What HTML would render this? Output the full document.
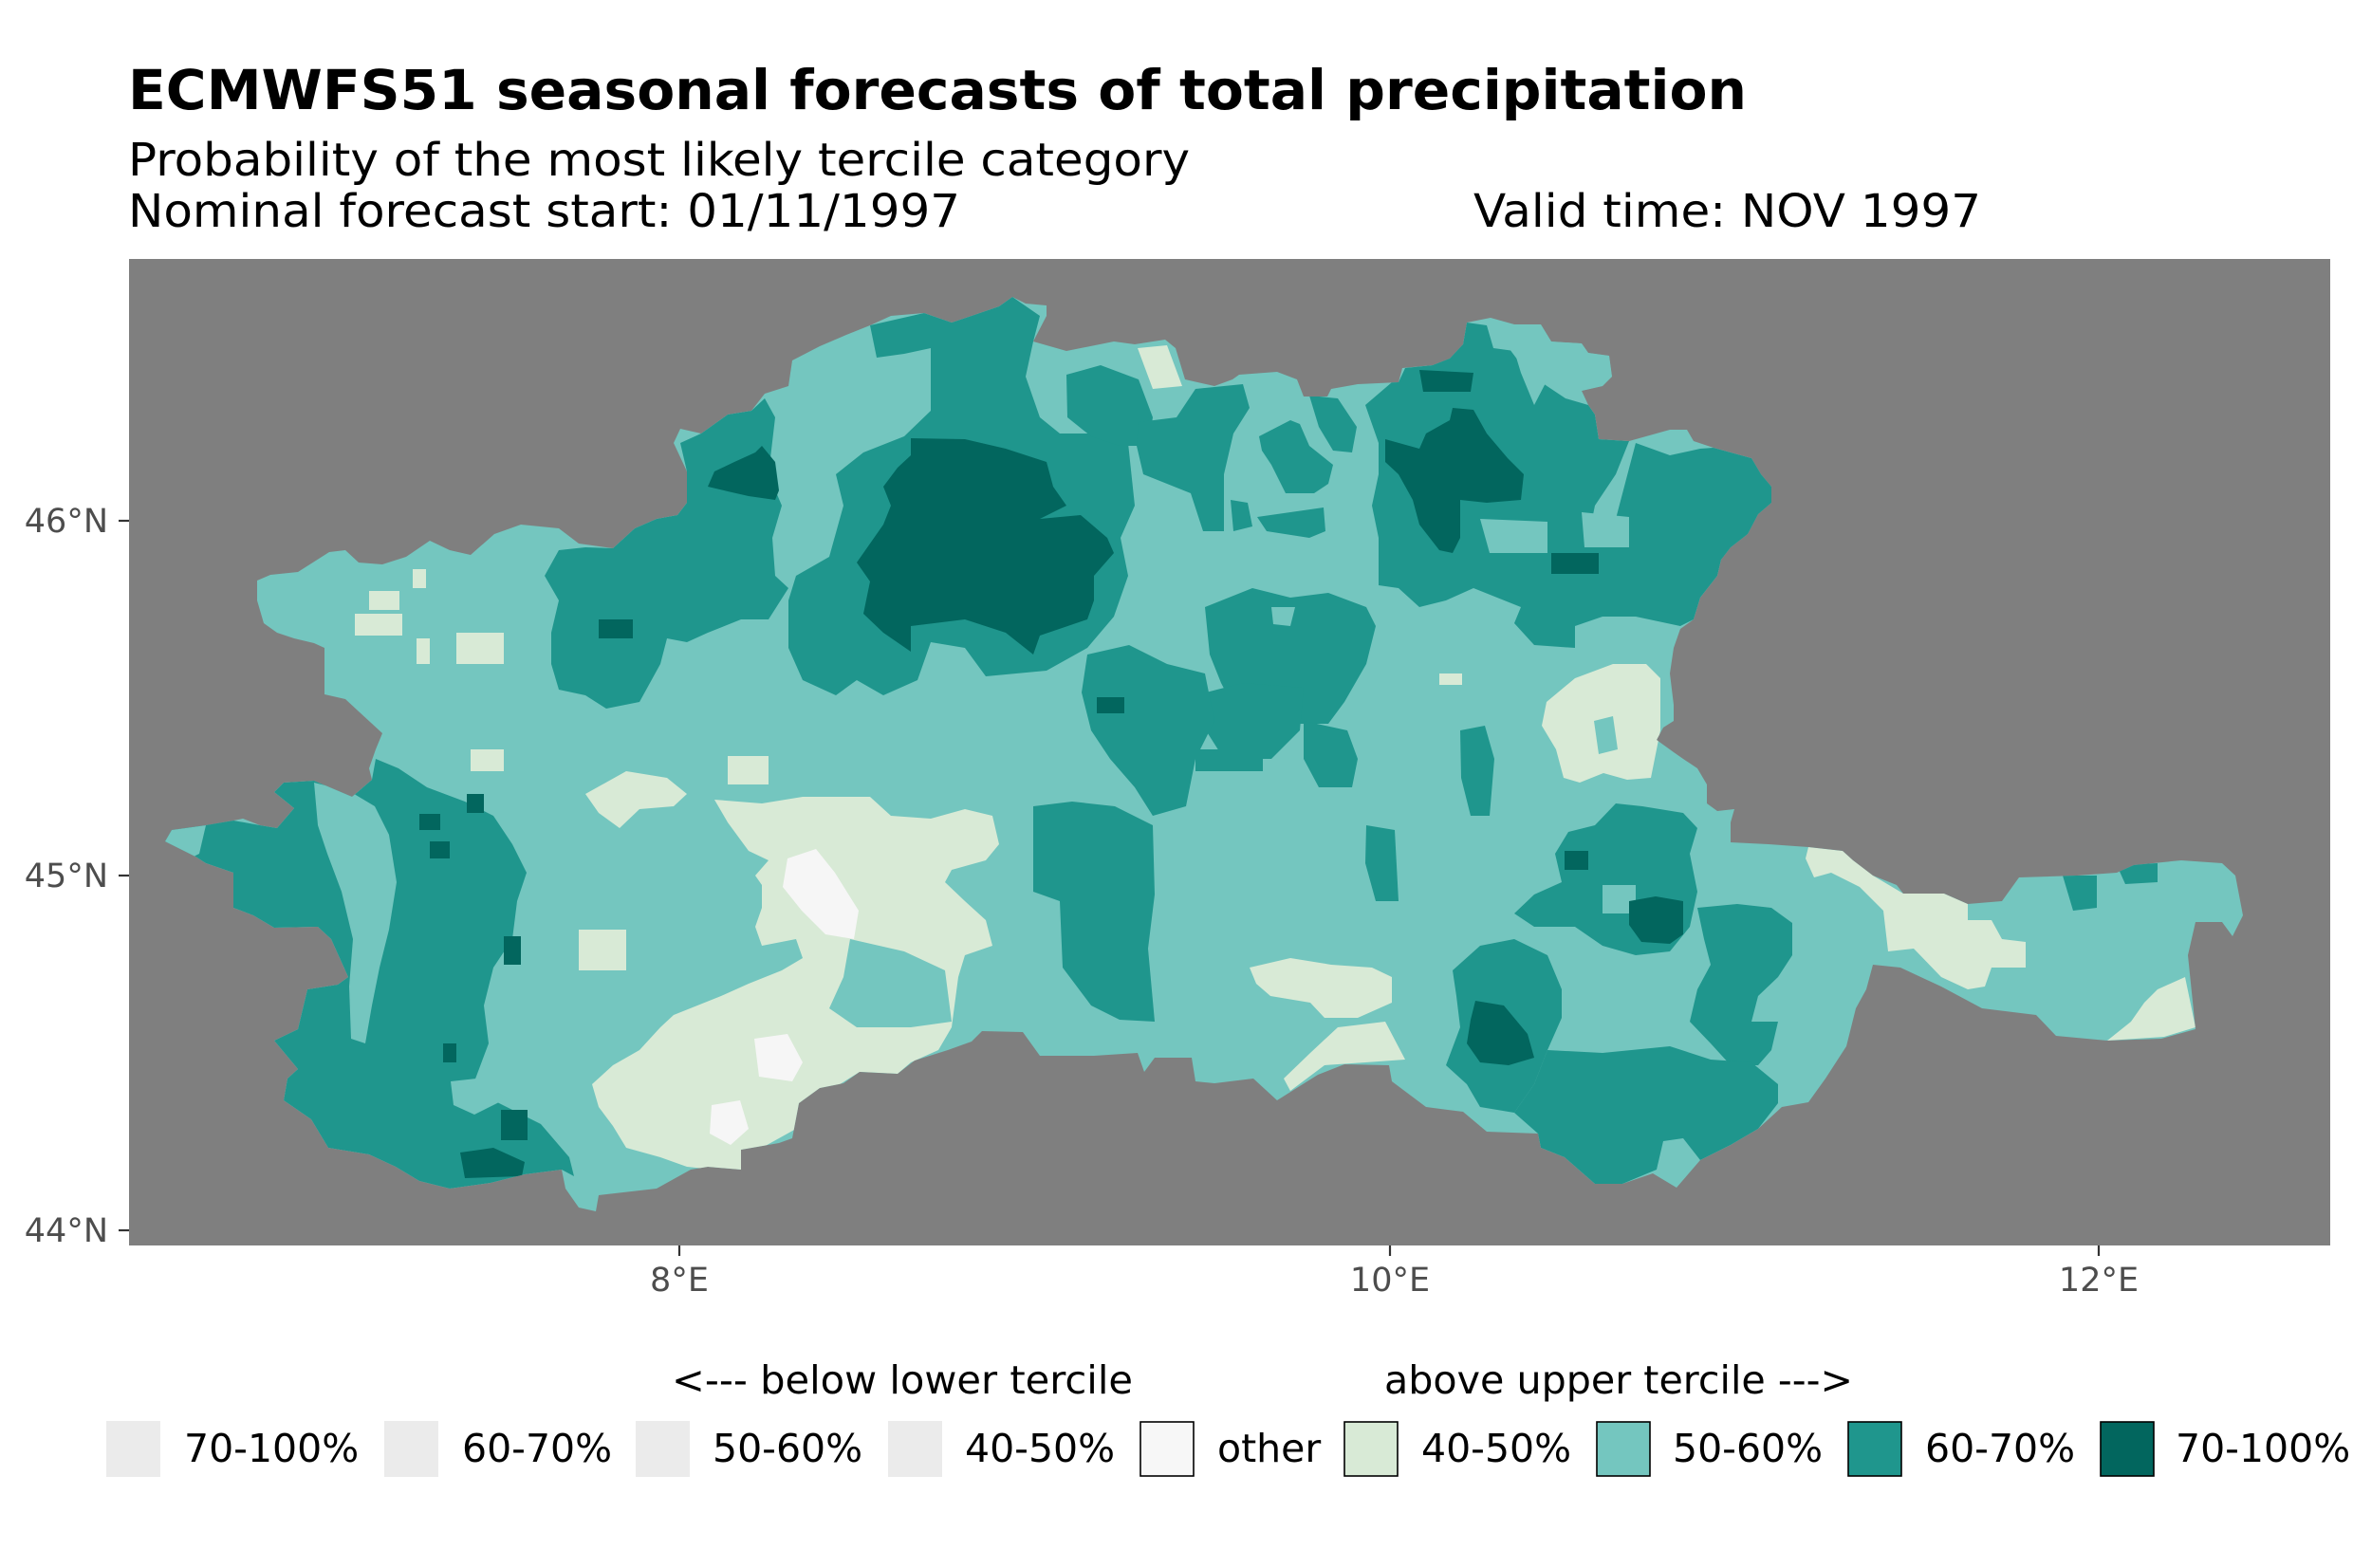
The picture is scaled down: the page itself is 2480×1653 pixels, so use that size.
<!DOCTYPE html>
<html><head><meta charset="utf-8"><style>
html,body{margin:0;padding:0;background:#fff;}
svg{display:block;}
text{font-family:"DejaVu Sans","Liberation Sans",sans-serif;}
</style></head><body>
<svg width="2480" height="1653" viewBox="0 0 2480 1653" xmlns="http://www.w3.org/2000/svg">
<rect width="2480" height="1653" fill="#ffffff"/>
<text x="135" y="115" font-size="58" font-weight="bold" fill="#000" textLength="1706" lengthAdjust="spacingAndGlyphs">ECMWFS51 seasonal forecasts of total precipitation</text>
<text x="135" y="185" font-size="48" fill="#000" textLength="1119" lengthAdjust="spacingAndGlyphs">Probability of the most likely tercile category</text>
<text x="135" y="239" font-size="48" fill="#000" textLength="877" lengthAdjust="spacingAndGlyphs">Nominal forecast start: 01/11/1997</text>
<text x="1553" y="239" font-size="48" fill="#000" textLength="535" lengthAdjust="spacingAndGlyphs">Valid time: NOV 1997</text>

<rect x="136" y="273" width="2320" height="1040" fill="#7f7f7f"/>
<defs>
<clipPath id="reg"><polygon id="outl" points="271,633 271,612 285,606 314,603 347,582 364,580 378,593 403,595 428,587 453,570 474,580 496,585 521,563 549,553 589,557 610,573 646,578 669,557 692,547 714,543 724,530 724,497 710,467 717,452 739,457 767,437 792,433 806,415 831,407 835,380 864,365 892,353 917,343 939,333 974,330 1003,340 1024,333 1053,323 1067,313 1081,320 1103,322 1103,333 1089,360 1124,370 1174,360 1196,363 1228,358 1239,367 1249,400 1280,407 1299,400 1306,395 1346,392 1367,400 1374,418 1399,418 1403,410 1431,405 1474,403 1478,388 1510,385 1528,378 1542,363 1546,340 1571,335 1596,342 1624,342 1635,360 1667,362 1674,372 1696,375 1699,397 1689,407 1667,412 1674,427 1681,437 1685,463 1717,465 1760,453 1778,453 1785,465 1806,472 1846,483 1856,500 1867,513 1867,530 1853,542 1842,563 1824,577 1814,590 1810,607 1792,630 1785,653 1771,663 1764,683 1760,710 1764,743 1764,760 1753,767 1746,780 1764,793 1774,800 1789,810 1799,827 1799,847 1810,855 1828,853 1824,867 1824,888 1864,890 1906,893 1942,897 1953,907 1974,923 1999,933 2006,942 2049,942 2074,953 2110,950 2128,925 2189,923 2231,920 2249,912 2299,907 2342,910 2356,923 2364,965 2353,987 2342,972 2314,972 2306,1007 2314,1085 2278,1095 2221,1097 2167,1092 2146,1070 2089,1063 2046,1040 2003,1020 1974,1017 1967,1043 1956,1063 1946,1103 1924,1137 1906,1162 1878,1167 1853,1190 1824,1207 1792,1223 1767,1252 1742,1237 1710,1248 1681,1248 1649,1220 1624,1210 1621,1195 1567,1193 1542,1172 1503,1167 1467,1140 1464,1123 1417,1122 1389,1133 1346,1160 1321,1137 1280,1142 1260,1140 1256,1115 1217,1115 1206,1130 1199,1110 1153,1113 1096,1113 1078,1088 1035,1087 1024,1098 999,1107 964,1118 946,1132 906,1130 889,1142 864,1147 842,1163 835,1200 821,1205 781,1212 781,1233 746,1230 728,1233 692,1253 631,1260 628,1277 610,1273 596,1253 592,1233 553,1238 517,1247 474,1253 442,1245 417,1230 389,1217 346,1210 328,1180 299,1160 303,1137 314,1127 289,1097 314,1085 324,1043 356,1038 367,1030 349,990 335,977 289,978 267,965 246,957 246,920 217,910 206,903 174,887 181,875 217,870 246,865 256,863 274,870 292,873 310,852 289,835 299,825 331,823 371,840 392,822 389,810 396,790 403,773 378,750 364,737 342,732 342,683 331,678 310,673 292,667 278,657"/></clipPath>
</defs>
<use href="#outl" fill="#74c6bf"/>
<g clip-path="url(#reg)">
<g fill="#1f968d">
<polygon points="174,887 181,875 246,865 274,870 292,873 310,852 289,835 299,825 331,823 371,840 392,822 396,800 420,810 450,830 490,845 520,860 540,890 555,920 545,950 540,990 520,1020 510,1060 515,1100 500,1140 520,1160 570,1185 600,1220 605,1240 592,1233 553,1238 517,1247 474,1253 442,1245 417,1230 389,1217 346,1210 328,1180 299,1160 303,1137 314,1127 289,1097 314,1085 324,1043 356,1038 367,1030 349,990 335,977 289,978 267,965 246,957 246,920 217,910 206,903"/>
<polygon points="589,580 617,577 646,578 669,557 692,547 714,543 724,530 724,497 717,467 739,457 767,437 792,433 806,420 817,440 810,500 824,533 814,567 817,607 831,620 810,653 781,653 746,667 724,677 703,673 696,700 674,740 639,747 617,733 589,727 581,700 581,667 589,633 574,607"/>
<polygon points="917,343 974,330 1003,340 1053,323 1067,313 1096,333 1089,360 1081,397 1096,440 1117,457 1153,457 1189,467 1196,533 1181,567 1189,607 1174,650 1146,683 1103,707 1039,713 1017,683 981,677 967,717 931,733 903,717 881,733 846,717 831,683 831,633 839,607 874,587 889,533 881,500 910,477 953,460 981,433 981,367 953,373 924,377"/>
<polygon points="1124,395 1160,385 1200,400 1215,440 1210,470 1180,470 1150,460 1125,440"/>
<polygon points="1474,403 1481,388 1510,385 1542,363 1546,340 1567,343 1574,367 1596,370 1603,393 1617,427 1631,400 1660,400 1674,427 1681,437 1685,463 1717,465 1703,500 1681,533 1674,567 1696,577 1717,563 1703,547 1724,467 1760,480 1792,473 1806,472 1846,483 1867,513 1867,530 1842,563 1814,590 1810,607 1792,630 1785,653 1771,660 1724,650 1689,650 1660,660 1660,683 1617,680 1596,657 1603,640 1553,620 1524,633 1496,640 1474,620 1453,617 1453,567 1446,533 1453,500 1453,467 1439,427 1467,403"/>
<polygon points="1200,445 1240,440 1260,410 1310,405 1317,430 1300,457 1290,500 1290,560 1268,560 1255,520 1230,510 1205,500 1198,470"/>
<polygon points="1327,460 1360,443 1370,447 1380,470 1405,490 1400,510 1385,520 1355,520 1340,490 1330,475"/>
<polygon points="1297,527 1315,530 1320,555 1300,560"/>
<polygon points="1325,545 1395,535 1397,560 1380,567 1335,560"/>
<polygon points="1380,417 1410,420 1430,450 1425,477 1405,475 1390,450"/>
<polygon points="1270,640 1320,620 1360,630 1400,625 1440,640 1450,660 1440,700 1417,740 1400,763 1340,763 1300,745 1287,720 1275,690"/>
<polygon points="1271,730 1310,720 1374,725 1370,770 1340,800 1290,800 1271,770"/>
<polygon points="1089,850 1130,845 1175,850 1215,870 1217,943 1210,1000 1217,1077 1180,1075 1150,1060 1120,1020 1117,950 1089,940"/>
<polygon points="1146,690 1190,680 1230,700 1270,710 1280,760 1260,800 1250,850 1215,860 1196,830 1170,800 1150,770 1140,730"/>
<polygon points="1374,760 1420,770 1431,800 1425,830 1390,830 1374,800"/>
<polygon points="1539,770 1565,765 1575,800 1570,860 1550,860 1540,820"/>
<polygon points="1440,870 1470,875 1474,950 1450,950 1439,910"/>
<polygon points="1681,870 1703,847 1731,850 1774,857 1789,873 1781,900 1789,940 1781,977 1760,1003 1724,1007 1689,997 1660,977 1617,977 1596,963 1617,943 1646,930 1639,900 1653,877"/>
<polygon points="1789,957 1831,953 1867,957 1889,973 1889,1007 1874,1030 1853,1050 1846,1077 1874,1077 1867,1107 1853,1123 1824,1123 1803,1100 1781,1077 1789,1043 1803,1017 1796,990"/>
<polygon points="1631,1107 1689,1110 1760,1103 1803,1117 1846,1120 1874,1143 1874,1163 1853,1190 1824,1207 1792,1223 1774,1200 1753,1203 1746,1233 1710,1248 1681,1248 1649,1220 1624,1210 1621,1195 1596,1173 1617,1143"/>
<polygon points="1531,1023 1560,997 1596,990 1631,1007 1646,1043 1646,1073 1631,1107 1617,1143 1596,1173 1560,1167 1546,1143 1524,1123 1539,1083 1535,1050"/>
<polygon points="2174,923 2210,923 2210,957 2185,960"/>
<polygon points="2231,912 2274,910 2274,930 2240,932"/>
<polygon points="1260,790 1331,790 1331,813 1260,813"/>
</g>
<g fill="#74c6bf">
<polygon points="331,825 370,835 395,850 410,880 418,930 410,980 400,1020 392,1060 385,1100 370,1095 368,1040 372,990 360,940 345,900 335,870"/>
<polygon points="174,887 181,875 217,870 210,900 200,905"/>
<polygon points="475,1140 520,1135 530,1160 500,1175 478,1165"/>
<polygon points="1571,336 1596,342 1624,342 1635,360 1667,362 1674,372 1696,375 1699,397 1689,407 1667,412 1674,427 1650,420 1620,400 1600,380 1585,360"/>
<polygon points="1560,547 1631,550 1631,583 1570,583"/>
<polygon points="1667,540 1717,545 1717,577 1670,577"/>
<polygon points="1689,933 1724,933 1724,963 1689,963"/>
<polygon points="1340,640 1365,640 1360,660 1342,658"/>
</g>
<g fill="#02665e">
<polygon points="960,462 1017,463 1060,473 1103,487 1110,513 1124,533 1096,547 1139,543 1167,567 1174,583 1153,607 1153,633 1146,653 1096,670 1089,690 1060,667 1017,653 960,660 960,687 931,667 910,647 917,613 903,593 917,573 931,553 939,533 931,513 946,493 960,480"/>
<polygon points="746,513 753,497 774,487 796,477 803,470 817,487 821,517 817,527 789,523 767,518"/>
<polygon points="1460,463 1496,473 1503,457 1528,443 1531,430 1553,432 1567,457 1589,483 1606,500 1603,527 1567,530 1539,527 1539,567 1531,583 1517,580 1496,553 1489,527 1474,500 1460,487"/>
<polygon points="1496,390 1553,393 1550,413 1500,413"/>
<polygon points="1635,583 1685,583 1685,605 1635,605"/>
<polygon points="1717,950 1745,945 1774,950 1774,985 1760,995 1730,993 1717,975"/>
<polygon points="1555,1055 1585,1060 1610,1090 1617,1115 1590,1123 1560,1120 1546,1100 1550,1075"/>
<rect x="531" y="987" width="18" height="30"/>
<rect x="492" y="837" width="18" height="20"/>
<rect x="453" y="887" width="21" height="18"/>
<polygon points="485,1215 520,1210 553,1225 550,1240 490,1242"/>
<rect x="528" y="1170" width="28" height="32"/>
<rect x="467" y="1100" width="14" height="20"/>
<rect x="442" y="858" width="22" height="17"/>
<rect x="1156" y="735" width="29" height="17"/>
<rect x="631" y="653" width="36" height="20"/>
<rect x="1649" y="897" width="25" height="20"/>
</g>
<g fill="#d8ead6">
<polygon points="753,843 803,847 846,840 917,840 939,860 981,863 1017,853 1046,860 1053,890 1039,907 1003,917 996,930 1017,950 1039,970 1046,997 1017,1007 1010,1030 1003,1083 989,1107 960,1120 946,1132 906,1130 874,1150 846,1160 839,1190 803,1210 781,1233 753,1233 724,1230 696,1220 660,1210 646,1187 631,1167 624,1143 646,1123 674,1107 696,1083 710,1070 760,1050 789,1037 824,1023 846,1010 839,990 803,997 796,977 803,957 803,933 796,923 810,907 789,897 767,867"/>
<polygon points="617,837 660,813 703,820 724,837 710,850 674,853 653,873 631,857"/>
<polygon points="1906,893 1942,897 1974,923 2006,942 2049,942 2074,953 2074,970 2099,970 2110,990 2135,993 2135,1020 2099,1020 2092,1040 2074,1043 2046,1030 2017,1000 1990,1003 1985,960 1960,935 1930,920 1912,925 1903,905"/>
<polygon points="2260,1057 2274,1043 2303,1030 2314,1083 2281,1093 2221,1097 2246,1077"/>
<polygon points="1317,1020 1360,1010 1403,1017 1446,1020 1467,1030 1467,1057 1431,1073 1396,1073 1381,1057 1339,1050 1324,1037"/>
<polygon points="1410,1083 1460,1077 1481,1117 1439,1120 1396,1123 1360,1150 1353,1137 1381,1110"/>
<polygon points="1630,740 1660,715 1700,700 1735,700 1750,715 1750,770 1740,820 1715,822 1690,815 1665,825 1648,820 1640,790 1625,765"/>
<polygon points="1199,367 1230,364 1246,407 1215,410"/>
<rect x="374" y="647" width="50" height="23"/>
<rect x="481" y="667" width="50" height="33"/>
<rect x="439" y="673" width="14" height="27"/>
<rect x="389" y="623" width="32" height="20"/>
<rect x="435" y="600" width="14" height="20"/>
<rect x="767" y="797" width="43" height="30"/>
<rect x="610" y="980" width="50" height="43"/>
<rect x="496" y="790" width="35" height="23"/>
<rect x="1517" y="710" width="24" height="12"/>
</g>
<g fill="#74c6bf">
<polygon points="896,990 953,1003 996,1023 1003,1077 960,1083 903,1083 874,1063 889,1030"/>
<polygon points="1680,760 1700,755 1705,790 1685,795"/>
</g>
<g fill="#f6f6f6">
<polygon points="830,905 860,895 880,920 905,960 900,990 870,985 845,960 825,935"/>
<polygon points="795,1095 830,1090 846,1120 835,1140 800,1135"/>
<polygon points="750,1165 780,1160 789,1190 770,1207 748,1195"/>
</g>
</g>

<g stroke="#333333" stroke-width="2.2">
<line x1="125" y1="549" x2="136" y2="549"/>
<line x1="125" y1="923" x2="136" y2="923"/>
<line x1="125" y1="1297" x2="136" y2="1297"/>
<line x1="716" y1="1313" x2="716" y2="1324"/>
<line x1="1465" y1="1313" x2="1465" y2="1324"/>
<line x1="2212" y1="1313" x2="2212" y2="1324"/>
</g>
<g font-size="35" fill="#4d4d4d">
<text x="114" y="561" text-anchor="end">46°N</text>
<text x="114" y="935" text-anchor="end">45°N</text>
<text x="114" y="1309" text-anchor="end">44°N</text>
<text x="716" y="1361" text-anchor="middle">8°E</text>
<text x="1465" y="1361" text-anchor="middle">10°E</text>
<text x="2212" y="1361" text-anchor="middle">12°E</text>
</g>

<g font-size="41" fill="#000">
<text x="708" y="1469" textLength="486" lengthAdjust="spacingAndGlyphs">&lt;--- below lower tercile</text>
<text x="1459" y="1469" textLength="494" lengthAdjust="spacingAndGlyphs">above upper tercile ---&gt;</text>
</g>
<g>
<rect x="112" y="1498" width="57" height="59" fill="#ebebeb"/>
<rect x="405" y="1498" width="57" height="59" fill="#ebebeb"/>
<rect x="670" y="1498" width="57" height="59" fill="#ebebeb"/>
<rect x="936" y="1498" width="57" height="59" fill="#ebebeb"/>
<g stroke="#000" stroke-width="1.6">
<rect x="1202" y="1499" width="56" height="57" fill="#f7f7f7"/>
<rect x="1417" y="1499" width="56" height="57" fill="#d8ead6"/>
<rect x="1683" y="1499" width="56" height="57" fill="#74c6bf"/>
<rect x="1948" y="1499" width="56" height="57" fill="#1f968d"/>
<rect x="2214" y="1499" width="56" height="57" fill="#02665e"/>
</g>
</g>
<g font-size="41" fill="#000">
<text x="194" y="1541">70-100%</text>
<text x="487" y="1541">60-70%</text>
<text x="751" y="1541">50-60%</text>
<text x="1017" y="1541">40-50%</text>
<text x="1283" y="1541">other</text>
<text x="1498" y="1541">40-50%</text>
<text x="1763" y="1541">50-60%</text>
<text x="2029" y="1541">60-70%</text>
<text x="2293" y="1541">70-100%</text>
</g>
</svg>
</body></html>
